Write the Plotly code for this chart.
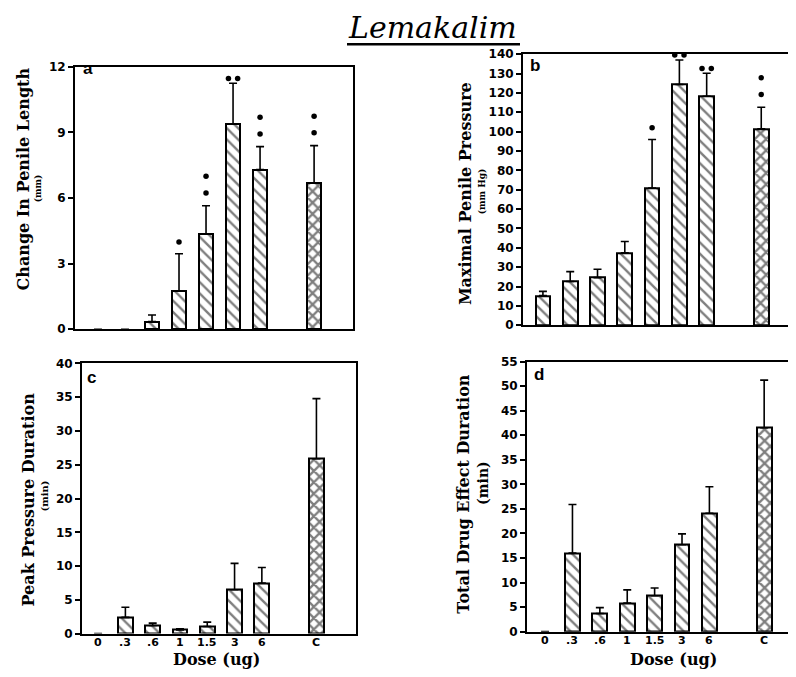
import plotly.graph_objects as go

# ---------------- data ----------------
doses = ["0", ".3", ".6", "1", "1.5", "3", "6", "C"]

length_mean = [0, 0, 0.35, 1.75, 4.35, 9.4, 7.3, 6.7]
length_err = [0, 0, 0.3, 1.7, 1.3, 1.85, 1.05, 1.7]
length_sig = ["", "", "", "*", "**v", "**h", "**v", "**v"]

pressure_mean = [15.3, 22.6, 24.6, 37.4, 70.8, 124.3, 118.3, 101.5]
pressure_err = [2.2, 5.1, 4.3, 5.9, 25.1, 12.7, 11.8, 11.1]
pressure_sig = ["", "", "", "", "*", "**h", "**h", "**v"]

peak_mean = [0, 2.4, 1.2, 0.55, 1.05, 6.5, 7.5, 25.9]
peak_err = [0, 1.5, 0.35, 0.15, 0.65, 3.9, 2.3, 8.9]
peak_sig = [""] * 8

total_mean = [0, 16.0, 3.7, 5.8, 7.3, 17.7, 24.1, 41.5]
total_err = [0, 9.9, 1.2, 2.7, 1.6, 2.2, 5.4, 9.7]
total_sig = [""] * 8

# ---------------- layout geometry (window pixels) ----------------
# The page body has an 8px margin; a 780x661 figure then fills the 796x677 window exactly.
OFF = 8
W, H = 796 - 2 * OFF, 677 - 2 * OFF


def px_x(p):
    return min(1.0, (p - OFF) / W)


def px_y(p):
    return 1 - (p - OFF) / H


# x slot positions: the control "C" sits after an empty slot
pos = [i + (1 if d == "C" else 0) for i, d in enumerate(doses)]
patterns = ["x" if d == "C" else "\\" for d in doses]
pat_solid = [0.5 if d == "C" else 0.3 for d in doses]
pat_size = [8 if d == "C" else 8 for d in doses]

panels = [
    dict(mean=length_mean, err=length_err, sig=length_sig,
         xd=(75, 353), yd=(61, 329), xr=(-0.85, 9.44), yr=(0, 12), dt=3,
         letter="a", lpos=(88, 63), xlabels=False),
    dict(mean=pressure_mean, err=pressure_err, sig=pressure_sig,
         xd=(523, 788), yd=(48, 325), xr=(-0.73, 8.98), yr=(0, 140), dt=10,
         letter="b", lpos=(535, 60), xlabels=False),
    dict(mean=peak_mean, err=peak_err, sig=peak_sig,
         xd=(82, 356), yd=(364, 640), xr=(-0.59, 9.45), yr=(0, 40), dt=5,
         letter="c", lpos=(91, 378), xlabels=True),
    dict(mean=total_mean, err=total_err, sig=total_sig,
         xd=(527, 788), yd=(362, 638), xr=(-0.66, 8.87), yr=(0, 55), dt=5,
         letter="d", lpos=(539, 375), xlabels=True),
]

fig = go.Figure()
tickfont = dict(family="DejaVu Sans", size=12, color="black", weight="bold")
xtickfont = dict(family="DejaVu Sans", size=11, color="black", weight="bold")
ann = []


def add_text(text, x, y, font, angle=0):
    ann.append(dict(text=text, x=px_x(x), y=px_y(y), xref="paper", yref="paper",
                    showarrow=False, textangle=angle, font=font,
                    xanchor="center", yanchor="middle"))


for k, p in enumerate(panels, start=1):
    xa = "x" if k == 1 else f"x{k}"
    ya = "y" if k == 1 else f"y{k}"
    line_w = [2 if m > 0 else 0 for m in p["mean"]]
    err_plot = [e if m > 0 else None for m, e in zip(p["mean"], p["err"])]
    fig.add_trace(go.Bar(
        x=pos, y=p["mean"], width=0.54,
        marker=dict(color="white", line=dict(color="black", width=line_w),
                    pattern=dict(shape=patterns, fgcolor="black", bgcolor="white",
                                 size=pat_size, solidity=pat_solid)),
        error_y=dict(type="data", array=err_plot, arrayminus=[0] * len(pos),
                     symmetric=False, color="black", thickness=1.6, width=4),
        xaxis=xa, yaxis=ya, showlegend=False,
    ))
    # significance dots
    hpx = p["yd"][1] - p["yd"][0]
    upp = (p["yr"][1] - p["yr"][0]) / hpx  # data units per pixel
    sx, sy = [], []
    for xp, m, e, s in zip(pos, p["mean"], p["err"], p["sig"]):
        top = m + e
        if s == "*":
            sx.append(xp); sy.append(top + 12 * upp)
        elif s == "**v":
            sx += [xp, xp]; sy += [top + 13 * upp, top + 30 * upp]
        elif s == "**h":
            sx += [xp - 0.17, xp + 0.17]; sy += [top + 5 * upp, top + 5 * upp]
    if sx:
        fig.add_trace(go.Scatter(x=sx, y=sy, mode="markers",
                                 marker=dict(color="black", size=5.5),
                                 xaxis=xa, yaxis=ya, showlegend=False,
                                 cliponaxis=False))
    xkey = "xaxis" if k == 1 else f"xaxis{k}"
    ykey = "yaxis" if k == 1 else f"yaxis{k}"
    right_open = p["xd"][1] >= 788
    fig.layout[xkey] = dict(
        domain=[px_x(p["xd"][0]), px_x(p["xd"][1])], range=list(p["xr"]),
        anchor=ya, showgrid=False, zeroline=False,
        showline=True, linecolor="black", linewidth=2, mirror=True,
        showticklabels=False, ticks="", fixedrange=True,
    )
    fig.layout[ykey] = dict(
        domain=[px_y(p["yd"][1]), px_y(p["yd"][0])], range=list(p["yr"]),
        anchor=xa, showgrid=False, zeroline=False,
        showline=True, linecolor="black", linewidth=2,
        mirror=False if right_open else True,
        dtick=p["dt"], tick0=0, ticks="outside", ticklen=5, tickwidth=1.5,
        tickcolor="black", tickfont=tickfont, fixedrange=True,
    )
    # x tick labels placed on the data scale, snug under the axis
    if p["xlabels"]:
        for xp, d in zip(pos, doses):
            ann.append(dict(text=d, x=xp, xref=xa, y=px_y(p["yd"][1] + 9), yref="paper",
                            showarrow=False, font=xtickfont,
                            xanchor="center", yanchor="middle"))

serif_b = dict(family="DejaVu Serif", size=16, color="black", weight="bold")

# y-axis titles
add_text("Change In Penile Length", 23, 176, serif_b, -90)
add_text("(mm)", 38, 185, dict(family="DejaVu Serif", size=9, color="black", weight="bold"), -90)
add_text("Maximal Penile Pressure", 465, 191, serif_b, -90)
add_text("(mm Hg)", 482, 188, dict(family="DejaVu Serif", size=9, color="black", weight="bold"), -90)
add_text("Peak Pressure Duration", 29, 503, serif_b, -90)
add_text("(min)", 45, 500, dict(family="DejaVu Serif", size=10, color="black", weight="bold"), -90)
add_text("Total Drug Effect Duration", 464, 497, serif_b, -90)
add_text("(min)", 483, 486, dict(family="DejaVu Serif", size=14, color="black", weight="bold"), -90)

# x-axis titles
add_text("Dose (ug)", 216, 666, serif_b)
add_text("Dose (ug)", 673, 666, serif_b)

# panel letters
for p in panels:
    add_text(p["letter"], p["lpos"][0], p["lpos"][1],
             dict(family="Liberation Sans Narrow, Liberation Sans", size=17,
                  color="black", weight="bold"))

# main title
add_text("<i>Lemakalim</i>", 433, 21,
         dict(family="DejaVu Serif", size=30, color="black"))

fig.update_layout(
    annotations=ann,
    shapes=[dict(type="line", xref="paper", yref="paper",
                 x0=px_x(347), x1=px_x(520), y0=px_y(38), y1=px_y(38),
                 line=dict(color="black", width=2.5))],
    width=W, height=H, margin=dict(l=0, r=0, t=0, b=0),
    paper_bgcolor="white", plot_bgcolor="white", bargap=0,
)

fig.write_html("out.html")
